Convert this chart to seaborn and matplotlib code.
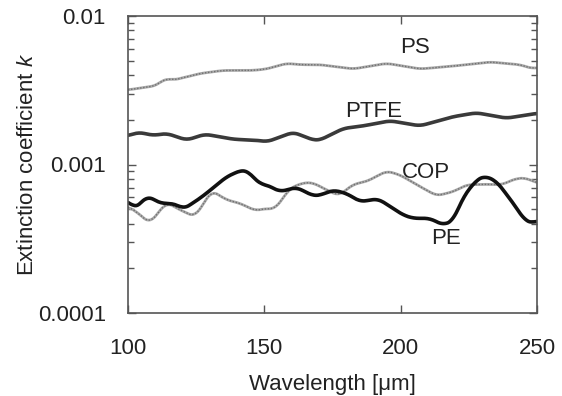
import numpy as np
import pandas as pd
import matplotlib
matplotlib.use("Agg")
import matplotlib.pyplot as plt
import seaborn as sns

# --- data ---
ps_x = [100.0, 110.5, 113.5, 116.6, 126.4, 134.9, 145.9, 150.9, 158.2, 163.0, 169.7,
        170.4, 182.6, 194.9, 207.1, 219.3, 232.8, 243.8, 248.7, 250.0]
ps_k = [0.00318, 0.0034, 0.0038, 0.0037, 0.0041, 0.0043, 0.0043, 0.0044, 0.0048, 0.0047, 0.0047,
        0.0047, 0.0044, 0.0048, 0.0044, 0.0046, 0.0049, 0.0047, 0.0044, 0.0045]

ptfe_x = [100.0, 103.8, 109.3, 114.2, 121.5, 128.2, 138.6, 148.4, 150.9, 160.6, 168.0,
          170.4, 179.0, 186.3, 196.1, 207.1, 219.3, 227.8, 238.8, 249.9]
ptfe_k = [0.00156, 0.00165, 0.00157, 0.00162, 0.00146, 0.00160, 0.00148, 0.00145, 0.00142, 0.00165, 0.00146,
          0.00146, 0.00175, 0.00182, 0.00197, 0.00182, 0.00210, 0.00223, 0.00205, 0.00221]

pe_x = [100.1, 102.0, 107.5, 111.1, 117.8, 120.3, 126.4, 130.0, 136.2, 141.7, 144.0, 148.4,
        150.9, 155.7, 161.8, 168.0, 170.4, 175.3, 180.2, 185.1, 191.8, 200.9, 204.6, 210.7,
        215.6, 219.3, 223.0, 227.8, 230.9, 235.2, 241.3, 245.6, 248.7, 249.9]
pe_k = [0.000577, 0.000499, 0.000616, 0.000553, 0.00054, 0.0005, 0.000592, 0.000667, 0.000828,
        0.000918, 0.0009, 0.000736, 0.00073, 0.000656, 0.000702, 0.000614, 0.000621, 0.000673,
        0.000638, 0.000562, 0.000587, 0.000457, 0.000434, 0.000434, 0.000391, 0.00042, 0.000607,
        0.000787, 0.000837, 0.00077, 0.000548, 0.000418, 0.000402, 0.000418]

cop_x = [100.0, 103.1, 108.0, 110.5, 114.2, 119.1, 124.6, 130.7, 136.2, 141.1, 146.6, 150.9,
         153.9, 159.4, 164.3, 168.0, 170.4, 177.3, 182.6, 187.5, 194.9, 199.8, 207.1, 213.2,
         219.3, 224.2, 231.5, 237.0, 242.5, 246.2, 249.9]
cop_k = [0.00052, 0.000481, 0.000402, 0.00046, 0.000556, 0.000494, 0.000445, 0.000667, 0.000577,
         0.000548, 0.000489, 0.000506, 0.0005, 0.000692, 0.000754, 0.000754, 0.00071, 0.000616,
         0.000736, 0.000768, 0.000904, 0.00085, 0.00071, 0.000616, 0.000656, 0.00073, 0.000736,
         0.00073, 0.000807, 0.00081, 0.00075]

labels = ["PS", "PTFE", "COP", "PE"]
label_pos = [(205.3, 0.0061), (189.9, 0.00226), (209.3, 0.00089), (216.6, 0.000318)]

x_ticks = [100, 150, 200, 250]
y_ticks = [0.0001, 0.001, 0.01]
y_ticklabels = ["0.0001", "0.001", "0.01"]

# --- style ---
sns.set_style("ticks")
plt.rcParams["font.family"] = ["Liberation Sans", "DejaVu Sans"]
plt.rcParams["mathtext.fontset"] = "custom"
plt.rcParams["mathtext.it"] = "Liberation Sans:italic"
plt.rcParams["mathtext.rm"] = "Liberation Sans"

FS = 16
fig = plt.figure(figsize=(5.62, 3.96), dpi=100)
ax = fig.add_axes([128 / 562, 83 / 396, 409 / 562, 297 / 396])

def smooth(x, y, n=300):
    xs = np.linspace(min(x), max(x), n)
    ly = np.interp(xs, x, np.log10(y))
    k = np.ones(9) / 9
    pad = np.pad(ly, 4, mode="edge")
    ly = np.convolve(pad, k, mode="valid")
    return xs, 10 ** ly

series = [
    ("PS", ps_x, ps_k, "#ababab", 2.0),
    ("PTFE", ptfe_x, ptfe_k, "#3a3a3a", 2.6),
    ("COP", cop_x, cop_k, "#ababab", 2.0),
    ("PE", pe_x, pe_k, "#111111", 2.6),
]
for name, x, y, c, lw in series:
    xs, ys = smooth(x, y)
    df = pd.DataFrame({"w": xs, "k": ys})
    sns.lineplot(data=df, x="w", y="k", ax=ax, color=c, lw=lw, estimator=None)
    if c == "#ababab":
        sns.lineplot(data=df, x="w", y="k", ax=ax, color="#707070", lw=1.0,
                     linestyle=(0, (1, 1.2)), estimator=None)

for t, (tx, ty) in zip(labels, label_pos):
    ax.text(tx, ty, t, fontsize=FS, ha="center", va="center", color="#222222")

ax.set_yscale("log")
ax.set_xlim(100, 250)
ax.set_ylim(0.0001, 0.01)
ax.set_xticks(x_ticks)
ax.set_yticks(y_ticks)
ax.set_yticklabels(y_ticklabels)
ax.set_xlabel(r"Wavelength [μm]", fontsize=FS, labelpad=11, color="#222222")
ax.set_ylabel(r"Extinction coefficient $k$", fontsize=FS, labelpad=0, color="#222222")
ax.tick_params(axis="both", which="both", direction="in", top=True, right=True,
               colors="#555555", labelcolor="#222222", labelsize=FS)
ax.tick_params(axis="both", which="major", length=6, width=1)
ax.tick_params(axis="y", which="minor", length=4, width=1)
ax.tick_params(axis="y", which="both", pad=16)
ax.tick_params(axis="x", which="major", pad=18)
for s in ax.spines.values():
    s.set_color("#555555")
    s.set_linewidth(1.2)

fig.savefig("out.png", dpi=100)
